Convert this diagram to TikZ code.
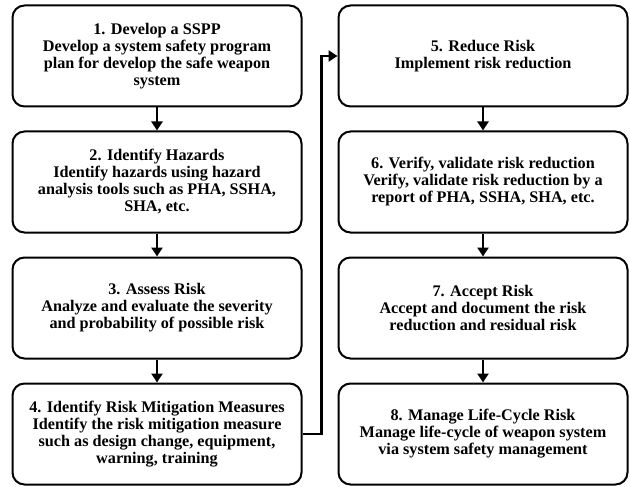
\documentclass[tikz,border=0pt]{standalone}
\usepackage{fontspec}
\setmainfont{Liberation Serif}
\usetikzlibrary{positioning,arrows.meta}

\begin{document}
\begin{tikzpicture}[
    stepCard/.style={draw=black, fill=white, rounded corners=12pt, line width=2pt, font=\fontsize{16.2pt}{17pt}\selectfont\bfseries, align=center, minimum width=289pt, minimum height=101pt, inner sep=2pt},
    arrowStyle/.style={-{Triangle[width=11pt,length=9pt]}, line width=2.6pt, draw=black}
]
    \useasboundingbox (0,0) rectangle (630pt,-487pt);

    % left column
    \node[stepCard] (dev) at (157pt,-56pt) {
        1. Develop a SSPP\\
        Develop a system safety program\\
        plan for develop the safe weapon\\
        system
    };
    \node[stepCard] (hazard) at (157pt,-182pt) {
        2. Identify Hazards\\
        Identify hazards using hazard\\
        analysis tools such as PHA, SSHA,\\
        SHA, etc.
    };
    \node[stepCard] (assess) at (157pt,-308pt) {
        3. Assess Risk\\
        Analyze and evaluate the severity\\
        and probability of possible risk
    };
    \node[stepCard] (mitig) at (157pt,-434pt) {
        4. Identify Risk Mitigation Measures\\
        Identify the risk mitigation measure\\
        such as design change, equipment,\\
        warning, training
    };

    % right column
    \node[stepCard] (reduce) at (483pt,-56pt) {
        5. Reduce Risk\\
        Implement risk reduction
    };
    \node[stepCard] (verify) at (483pt,-182pt) {
        6. Verify, validate risk reduction\\
        Verify, validate risk reduction by a\\
        report of PHA, SSHA, SHA, etc.
    };
    \node[stepCard] (accept) at (483pt,-308pt) {
        7. Accept Risk\\
        Accept and document the risk\\
        reduction and residual risk
    };
    \node[stepCard] (manage) at (483pt,-434pt) {
        8. Manage Life-Cycle Risk\\
        Manage life-cycle of weapon system\\
        via system safety management
    };

    \draw[arrowStyle] (dev.south) -- (hazard.north);
    \draw[arrowStyle] (hazard.south) -- (assess.north);
    \draw[arrowStyle] (assess.south) -- (mitig.north);
    \draw[arrowStyle] (mitig.east) -- ++(19pt,0) |- (reduce.west);
    \draw[arrowStyle] (reduce.south) -- (verify.north);
    \draw[arrowStyle] (verify.south) -- (accept.north);
    \draw[arrowStyle] (accept.south) -- (manage.north);
\end{tikzpicture}
\end{document}
